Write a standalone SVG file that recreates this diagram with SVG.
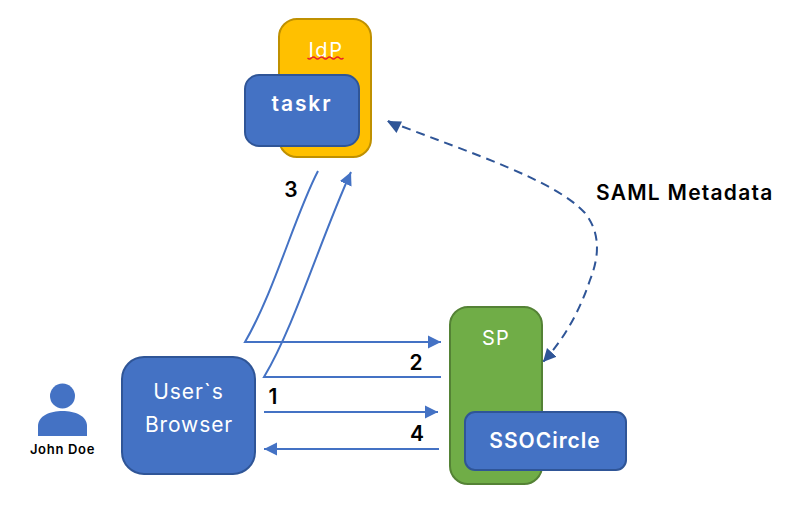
<svg xmlns="http://www.w3.org/2000/svg" width="798" height="515" viewBox="0 0 798 515">
<defs>
<style>
text{font-family:"Inter","Liberation Sans",sans-serif}
.w{fill:#fff;text-anchor:middle;font-size:20px;letter-spacing:1.200px}
.b{font-size:21px;font-weight:600;letter-spacing:1.250px}
.n{fill:#000;font-weight:600;font-size:21px;text-anchor:middle}
.blue{fill:#4472c4;stroke:#2f5597;stroke-width:2}
.c{fill:none;stroke:#4472c4;stroke-width:2}
</style>
<marker id="a" markerUnits="userSpaceOnUse" markerWidth="14" markerHeight="14" refX="13" refY="7" orient="auto"><path d="M0 0.500L13 7L0 13.500Z" fill="#4472c4"/></marker>
<marker id="d" markerUnits="userSpaceOnUse" markerWidth="14" markerHeight="14" refX="13" refY="7" orient="auto"><path d="M0 0.500L13 7L0 13.500Z" fill="#2f5597"/></marker>
</defs>
<rect width="798" height="515" fill="#fff"/>
<g id="idp">
<rect x="279" y="19" width="92" height="138" rx="18" fill="#ffc000" stroke="#bf9000" stroke-width="2"/>
<text class="w" x="326" y="57" style="letter-spacing:1.600px">IdP</text>
<path d="M307.500 58q2 2 4 0t4 0t4 0t4 0t4 0t4 0t4 0t4 0t4 0" fill="none" stroke="#e8202a" stroke-width="1.300"/>
</g>
<g id="taskr">
<rect class="blue" x="245" y="75" width="114" height="71" rx="14"/>
<text class="w b" x="302" y="111" style="letter-spacing:1.900px">taskr</text>
</g>
<g id="john-doe">
<circle cx="62.500" cy="396" r="12.500" fill="#4472c4"/>
<path d="M38 436V426C38 416 50 411 62.500 411S87 416 87 426V436Z" fill="#4472c4"/>
<text x="62.500" y="454" font-size="13" font-weight="600" letter-spacing="0.700" fill="#000" text-anchor="middle">John Doe</text>
</g>
<g id="browser">
<rect class="blue" x="122" y="357" width="133" height="117" rx="22"/>
<text class="w" x="188.500" y="399" style="letter-spacing:1px;font-size:21px">User`s</text>
<text class="w" x="189" y="432" style="letter-spacing:0.900px;font-size:21px">Browser</text>
</g>
<g id="sp">
<rect x="450" y="307" width="92" height="177" rx="18" fill="#70ad47" stroke="#548235" stroke-width="2"/>
<text class="w" x="496" y="345">SP</text>
</g>
<g id="ssocircle">
<rect class="blue" x="465" y="412" width="161" height="58" rx="10"/>
<text class="w b" x="545" y="448" style="letter-spacing:1px">SSOCircle</text>
</g>
<g id="connectors">
<path class="c" d="M318 171C295 215 275 290 245 342H441" marker-end="url(#a)"/>
<path class="c" d="M441 377H264C295 325 320 240 351 172" marker-end="url(#a)"/>
<path class="c" d="M264 412H438" marker-end="url(#a)"/>
<path class="c" d="M439 449H264" marker-end="url(#a)"/>
<path d="M388 121C470 153 555 180 585 213C600 232 600 255 590 280C580 310 565 338 543 362" fill="none" stroke="#2f5597" stroke-width="2" stroke-dasharray="9 6" marker-end="url(#d)"/>
<path d="M387 121L402 121.500L396.500 133Z" fill="#2f5597"/>
</g>
<g id="labels">
<text class="n" x="291" y="197">3</text>
<text class="n" x="416" y="370">2</text>
<text class="n" x="273" y="404">1</text>
<text class="n" x="417" y="441">4</text>
<text class="b" x="596" y="200" fill="#000">SAML Metadata</text>
</g>
</svg>
